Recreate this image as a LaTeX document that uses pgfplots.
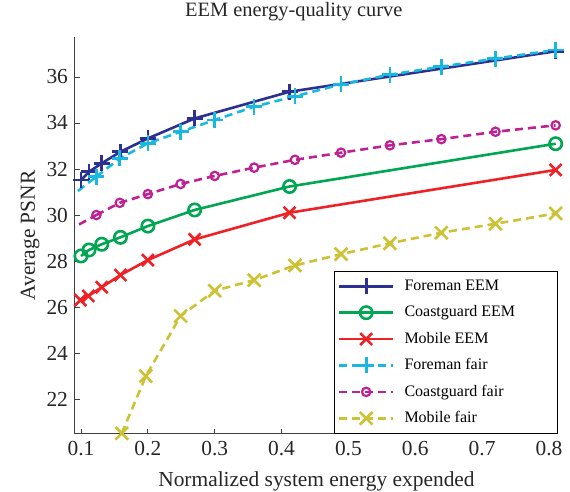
\documentclass[border=0pt]{standalone}
\usepackage{fontspec}
\setmainfont{Liberation Serif}
\usepackage{pgfplots}
\pgfplotsset{compat=1.18}
\definecolor{cFE}{rgb}{0.18,0.19,0.57}
\definecolor{cCE}{rgb}{0.0,0.65,0.32}
\definecolor{cME}{rgb}{0.93,0.13,0.15}
\definecolor{cFF}{rgb}{0.1,0.72,0.88}
\definecolor{cCF}{rgb}{0.74,0.13,0.58}
\definecolor{cMF}{rgb}{0.80,0.76,0.20}
\begin{document}
\begin{tikzpicture}
\useasboundingbox (-37.5pt,-29pt) rectangle (247.5pt,217pt);
\begin{axis}[
  at={(0,0)}, anchor=south west,
  scale only axis, width=241.5pt, height=198.5pt,
  xmin=0.091, xmax=0.8135, ymin=20.48, ymax=37.74,
  axis x line*=bottom, axis y line*=left,
  axis line style={black!75, line width=0.5pt},
  tick align=inside, major tick length=2.5pt,
  tick style={black!75, line width=0.5pt},
  xtick={0.1,0.2,0.3,0.4,0.5,0.6,0.7,0.8},
  ytick={22,24,26,28,30,32,34,36},
  /pgf/number format/assume math mode=true,
  xticklabel style={/pgf/number format/fixed, /pgf/number format/precision=1, /pgf/number format/fixed zerofill},
  ticklabel style={font=\fontsize{10.7}{12}\selectfont, text=black!85},
  every axis title shift=0pt,
  title={EEM energy-quality curve},
  title style={at={(axis description cs:0.453,1)}, anchor=base, yshift=10pt, font=\fontsize{10.2}{12}\selectfont, text=black!85},
  xlabel={Normalized system energy expended},
  xlabel style={at={([yshift=-26.5pt]axis description cs:0.5,0)}, anchor=base, font=\fontsize{10.7}{12}\selectfont, text=black!85},
  ylabel={Average PSNR},
  ylabel style={at={([xshift=-20pt]axis description cs:0,0.5)}, anchor=base, font=\fontsize{10.7}{12}\selectfont, text=black!85},
  legend style={at={(1,0)}, anchor=south east, draw=black, line width=0.5pt, fill=white,
    font=\fontsize{8}{9}\selectfont, inner xsep=1.5pt, inner ysep=1pt, row sep=0pt, column sep=5pt,
    nodes={inner sep=0pt, minimum height=13.2pt, text height=6pt, text depth=1.7pt}},
  legend cell align=left,
  legend image code/.code={\draw[mark repeat=2,mark phase=2] plot coordinates {(0pt,0pt)(13.5pt,0pt)(27pt,0pt)};},
  every axis plot/.append style={line width=1.3pt},
]
% hidden starts of the fair curves (left of the visible range)
\addplot[forget plot, cFF, dash pattern=on 4pt off 2.5pt] coordinates {(0.08,30.70)(0.123,31.67)};
\addplot[forget plot, cCF, dash pattern=on 4pt off 2.5pt] coordinates {(0.08,29.32)(0.123,30.00)};

\addplot[cFE, mark=+, mark size=4pt, mark options={line width=1.3pt}] coordinates {
 (0.100,31.52)(0.112,31.88)(0.131,32.25)(0.159,32.75)(0.200,33.33)(0.270,34.20)(0.412,35.36)(0.810,37.12)};
\addlegendentry{\makebox[75pt][l]{Foreman EEM}}
\addplot[cCE, mark=o, mark size=3.1pt, mark options={line width=1.3pt}] coordinates {
 (0.100,28.22)(0.112,28.48)(0.131,28.73)(0.159,29.03)(0.200,29.52)(0.270,30.22)(0.412,31.24)(0.810,33.10)};
\addlegendentry{Coastguard EEM}
\addplot[cME, mark=x, mark size=4.2pt, mark options={line width=1.3pt}] coordinates {
 (0.099,26.30)(0.111,26.48)(0.131,26.86)(0.159,27.39)(0.200,28.04)(0.270,28.94)(0.412,30.10)(0.810,31.96)};
\addlegendentry{Mobile EEM}
\addplot[cFF, dash pattern=on 4pt off 2.5pt, mark=+, mark size=4pt, mark options={solid, line width=1.3pt}] coordinates {
 (0.123,31.67)(0.158,32.46)(0.200,33.12)(0.249,33.62)(0.300,34.13)(0.359,34.71)(0.420,35.16)(0.489,35.68)(0.562,36.10)(0.639,36.45)(0.720,36.80)(0.810,37.18)};
\addlegendentry{Foreman fair}
\addplot[cCF, dash pattern=on 4pt off 2.5pt, mark=o, mark size=2.1pt, mark options={solid, line width=1.1pt}] coordinates {
 (0.123,30.00)(0.158,30.53)(0.200,30.91)(0.249,31.35)(0.300,31.70)(0.359,32.06)(0.420,32.40)(0.489,32.71)(0.562,33.03)(0.639,33.30)(0.720,33.62)(0.810,33.90)};
\addlegendentry{Coastguard fair}
\addplot[cMF, dash pattern=on 4pt off 2.5pt, mark=x, mark size=4.5pt, mark options={solid, line width=1.3pt}] coordinates {
 (0.161,20.51)(0.197,23.00)(0.249,25.61)(0.300,26.71)(0.359,27.17)(0.420,27.81)(0.489,28.30)(0.562,28.77)(0.639,29.23)(0.720,29.62)(0.810,30.07)};
\addlegendentry{Mobile fair}
\end{axis}
\end{tikzpicture}
\end{document}
